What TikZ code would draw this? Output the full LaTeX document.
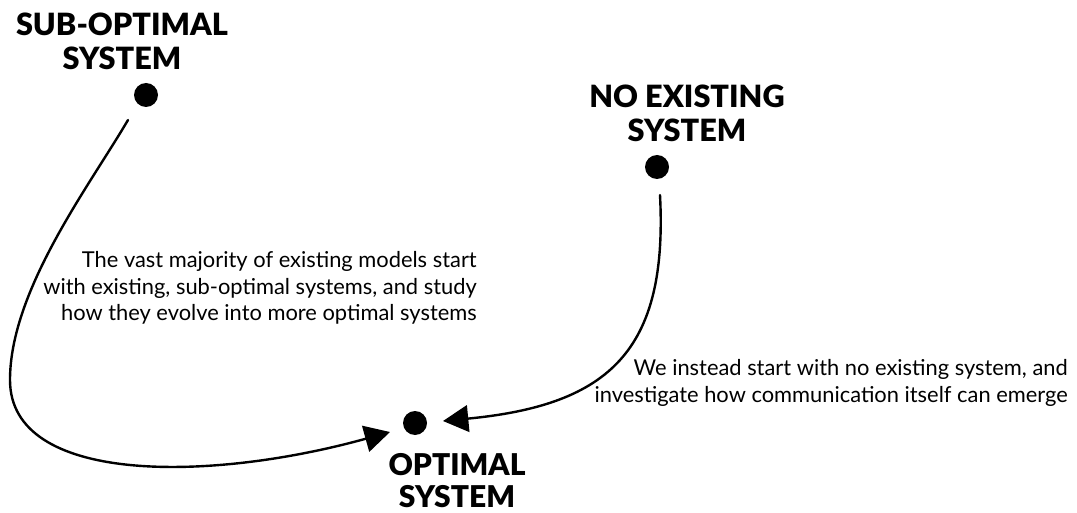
\documentclass[tikz,border=0pt]{standalone}
\usepackage{fontspec}
\setmainfont{Lato}[BoldFont={Lato Black}]
\usetikzlibrary{arrows.meta}
\begin{document}
\begin{tikzpicture}[x=0.75pt,y=-0.75pt,
  dot/.style={circle,fill=black,minimum size=18pt,inner sep=0pt},
  lbl/.style={font=\fontsize{23}{25.5}\selectfont\bfseries,align=center,inner sep=0pt},
  note/.style={font=\fontsize{16.4}{20}\selectfont,align=right,inner sep=0pt},
  link/.style={line width=1.8pt,line cap=round,-{Triangle[length=19pt,width=20pt]}}]
\useasboundingbox (0,0) rectangle (1077,513);
% dots
\node[dot] (d1) at (146,95) {};
\node[dot] (d2) at (657,167) {};
\node[dot] (d3) at (415,423) {};
% labels
\node[lbl] (l1) at (122,41) {SUB-OPTIMAL\\SYSTEM};
\node[lbl] (l2) at (687,113) {NO EXISTING\\SYSTEM};
\node[lbl,font=\fontsize{22.5}{24.5}\selectfont\bfseries,anchor=south] (l3) at (457,508.5) {OPTIMAL\\SYSTEM};
% notes
\node[note,anchor=east] (n1) at (477,288) {The vast majority of existing models start\\with existing, sub-optimal systems, and study\\how they evolve into more optimal systems};
\node[note,anchor=east] (n2) at (1068,383) {We instead start with no existing system, and\\investigate how communication itself can emerge};
% connector endpoints
\coordinate (s1) at (128,120);
\coordinate (m1) at (10,380);
\coordinate (t1) at (390,432);
\coordinate (s2) at (660,195);
\coordinate (t2) at (443,421);
\draw[link] (s1) .. controls (90,185) and (10,290) .. (m1)
                 .. controls (10,485) and (210,482) .. (t1);
\draw[link] (s2) .. controls (668,350) and (610,405) .. (t2);
\end{tikzpicture}
\end{document}
